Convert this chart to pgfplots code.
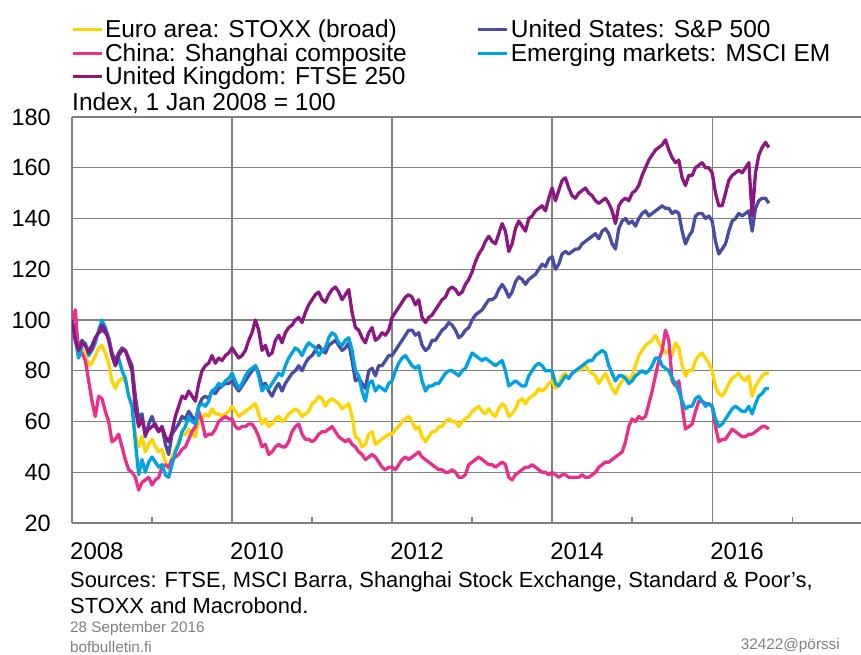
\documentclass[border=0pt]{standalone}
\usepackage{pgfplots}
\pgfplotsset{compat=1.18}
\usepackage{pgfplotstable}
\usepackage{fontspec}
\setmainfont{Liberation Sans}
\definecolor{ceuro}{RGB}{255,212,0}
\definecolor{cchina}{RGB}{232,48,138}
\definecolor{cuk}{RGB}{140,22,130}
\definecolor{cus}{RGB}{72,76,162}
\definecolor{cem}{RGB}{0,162,226}
\definecolor{cgrid}{RGB}{128,128,128}
\pgfplotstableread{
euro china uk us em
100 100 100 100 100
93 104 92 93 92
87 86 88 90 85
89 87 91 92 90
86 84 90 90 91
82 76 87 88 86
83 68 89 90 88
86 62 93 93 91
89 70 95 95 96
90 69 98 96 100
87 64 96 95 97
83 60 92 93 93
76 52 86 87 86
73 53 82 84 82
76 55 86 87 85
77 50 88 89 80
76 45 88 88 77
70 41 84 85 70
67 40 80 82 66
55 38 65 70 52
50 33 58 61 39
54 36 61 63 45
48 37 55 54 40
51 38 57 59 44
53 35 58 62 46
50 37 59 58 44
48 38 56 56 42
49 42 58 58 43
44 43 54 51 39
41 42 52 47 38
46 45 56 55 43
49 46 62 57 48
52 47 66 59 51
55 49 70 62 56
55 50 69 61 58
57 53 72 64 62
55 56 70 62 60
54 58 68 60 59
60 64 75 66 66
61 60 80 69 67
63 54 82 70 66
62 55 83 69 68
65 55 86 72 72
63 57 83 71 73
63 60 85 73 75
62 61 84 74 74
63 62 86 75 76
64 61 87 75 77
66 61 89 76 79
64 58 87 74 76
62 57 85 72 73
63 58 86 74 75
64 58 88 76 78
65 59 92 78 80
66 59 95 80 81
67 57 100 82 82
63 54 96 79 78
59 50 88 74 72
61 51 90 75 74
58 47 86 72 73
59 48 87 70 75
61 50 92 73 77
62 51 94 75 79
60 50 91 72 78
61 50 95 75 82
63 52 97 77 85
64 56 98 79 87
65 58 100 80 89
64 59 101 82 88
62 55 99 80 86
63 53 103 83 89
64 53 106 85 91
67 52 108 86 90
68 53 110 88 89
70 55 111 90 86
69 56 108 88 88
66 56 107 87 89
68 57 110 90 93
69 58 112 91 95
68 56 113 92 94
67 54 111 90 91
65 53 108 88 90
66 52 110 89 92
67 53 112 91 93
62 51 103 84 88
54 50 97 76 80
53 48 96 77 78
50 47 93 75 72
51 45 91 73 68
55 46 95 80 75
56 47 97 81 76
51 46 92 78 72
52 44 93 82 74
53 42 95 82 73
54 41 94 84 72
55 42 96 86 75
55 42 101 86 76
57 41 103 88 80
58 43 105 90 83
60 45 107 92 85
61 46 109 94 86
62 45 110 96 84
60 46 109 96 82
57 47 106 94 81
58 48 108 95 82
54 46 101 90 76
52 45 99 88 72
54 44 101 89 74
56 43 102 92 74
56 42 104 92 75
58 41 106 94 75
58 41 108 96 77
60 40 109 97 79
61 40 112 99 80
60 41 113 98 80
60 40 112 96 79
58 38 110 93 78
60 38 111 94 80
61 39 114 96 81
62 43 116 97 84
64 44 119 100 87
65 45 123 102 86
66 46 126 103 85
64 45 128 104 84
63 44 131 106 85
65 43 133 108 84
63 43 131 108 83
62 42 130 109 82
65 43 134 112 83
67 44 138 114 84
66 43 135 112 80
62 38 127 109 74
63 37 130 111 75
65 39 136 115 76
68 40 139 117 75
69 41 137 116 74
67 42 135 114 74
69 42 140 116 78
70 43 141 117 80
71 42 143 118 82
73 41 144 120 83
72 40 145 122 82
73 40 143 121 80
75 39 148 124 80
76 40 152 125 80
73 39 147 120 75
75 38 151 122 74
78 39 155 126 76
79 39 156 127 78
77 38 152 126 77
79 38 149 127 79
80 38 148 128 80
80 38 150 128 81
81 39 151 130 82
82 38 152 131 83
80 38 150 132 84
79 39 149 133 84
78 40 147 134 86
75 42 146 132 87
77 43 147 135 88
79 44 148 136 87
76 44 146 134 82
73 45 143 130 79
71 46 138 128 76
74 47 145 136 78
76 48 147 139 78
78 52 148 140 77
76 58 147 138 75
78 61 150 139 76
82 60 151 137 78
86 62 153 140 79
88 61 157 142 80
90 62 160 143 79
91 67 163 141 80
92 72 165 142 82
94 78 167 143 85
91 84 168 144 85
89 88 169 145 82
87 96 171 144 81
88 92 167 144 80
86 76 164 142 77
91 74 162 143 75
89 76 163 142 72
82 66 156 135 68
78 57 153 130 65
80 58 157 133 66
80 59 157 135 66
84 64 160 141 69
86 68 161 142 70
87 68 162 142 68
85 67 160 140 66
83 67 160 141 67
80 66 158 139 66
74 58 150 131 61
71 52 145 126 58
70 53 145 128 59
72 53 150 130 61
75 55 155 135 63
77 57 157 139 65
78 56 158 140 66
79 55 159 142 65
77 54 158 141 64
76 54 160 142 64
78 55 162 143 66
70 55 141 135 63
74 56 158 144 67
76 57 165 147 70
78 58 168 148 71
79 58 170 148 73
79 57 168 146 73
}\data

\begin{document}
\begin{tikzpicture}
\useasboundingbox (0,0) rectangle (861pt,654pt);
\begin{axis}[
  at={(72pt,131pt)}, anchor=south west,
  scale only axis, width=789pt, height=406pt,
  xmin=2008, xmax=2017.86, ymin=20, ymax=180,
  axis x line*=bottom, axis y line*=left,
  axis line style={cgrid, line width=1.3pt},
  xtick={2008,2010,2012,2014,2016},
  minor xtick={2009,2011,2013,2015,2017},
  ytick={20,40,...,180},
  xmajorgrids, ymajorgrids,
  grid style={cgrid, line width=1.3pt},
  major tick length=0pt, minor tick length=6pt, tick align=inside,
  minor tick style={cgrid, line width=1.3pt},
  /pgf/number format/1000 sep={},
  /pgf/number format/assume math mode=true,
  xticklabel style={anchor=north west, inner sep=0pt, yshift=-20pt, xshift=-2pt, font=\fontsize{24}{24}\selectfont},
  yticklabel style={anchor=east, inner sep=0pt, xshift=-21pt, font=\fontsize{23.5}{24}\selectfont},
  legend columns=2,
  legend cell align=left,
  legend style={at={(0,1)}, anchor=south west, yshift=29pt, xshift=-1pt,
    draw=none, fill=none, inner sep=0pt, outer sep=0pt, row sep=0pt,
    font=\fontsize{24.5}{27}\selectfont, nodes={inner sep=2pt},
    /tikz/column 2/.style={column sep=68pt}},
  legend image code/.code={\draw[#1, line width=3pt] (0pt,0pt) -- (29pt,0pt);},
  every axis plot/.append style={line width=3.3pt, line join=round},
]
\addplot[ceuro] table[x expr=2008+\coordindex/24, y=euro] {\data};
\addlegendentry{Euro area: STOXX (broad)}
\addplot[cus] table[x expr=2008+\coordindex/24, y=us] {\data};
\addlegendentry{United States: S\&P 500}
\addplot[cchina] table[x expr=2008+\coordindex/24, y=china] {\data};
\addlegendentry{China: Shanghai composite}
\addplot[cem] table[x expr=2008+\coordindex/24, y=em] {\data};
\addlegendentry{Emerging markets: MSCI EM}
\addplot[cuk] table[x expr=2008+\coordindex/24, y=uk] {\data};
\addlegendentry{United Kingdom: FTSE 250}
\end{axis}
\node[anchor=west, inner sep=0pt, font=\fontsize{24.5}{27}\selectfont] at (72pt,551pt) {Index, 1 Jan 2008 = 100};
\node[anchor=west, inner sep=0pt, font=\fontsize{21.9}{24}\selectfont] at (70pt,72pt) {Sources: FTSE, MSCI Barra, Shanghai Stock Exchange, Standard \& Poor’s,};
\node[anchor=west, inner sep=0pt, font=\fontsize{21.9}{24}\selectfont] at (70pt,48pt) {STOXX and Macrobond.};
\node[anchor=west, inner sep=0pt, text=gray, font=\fontsize{15.3}{16}\selectfont] at (70pt,25pt) {28 September 2016};
\node[anchor=west, inner sep=0pt, text=gray, font=\fontsize{15.3}{16}\selectfont] at (70pt,7pt) {bofbulletin.fi};
\node[anchor=east, inner sep=0pt, text=gray, font=\fontsize{15.3}{16}\selectfont] at (840pt,8pt) {32422@pörssi};
\end{tikzpicture}
\end{document}
